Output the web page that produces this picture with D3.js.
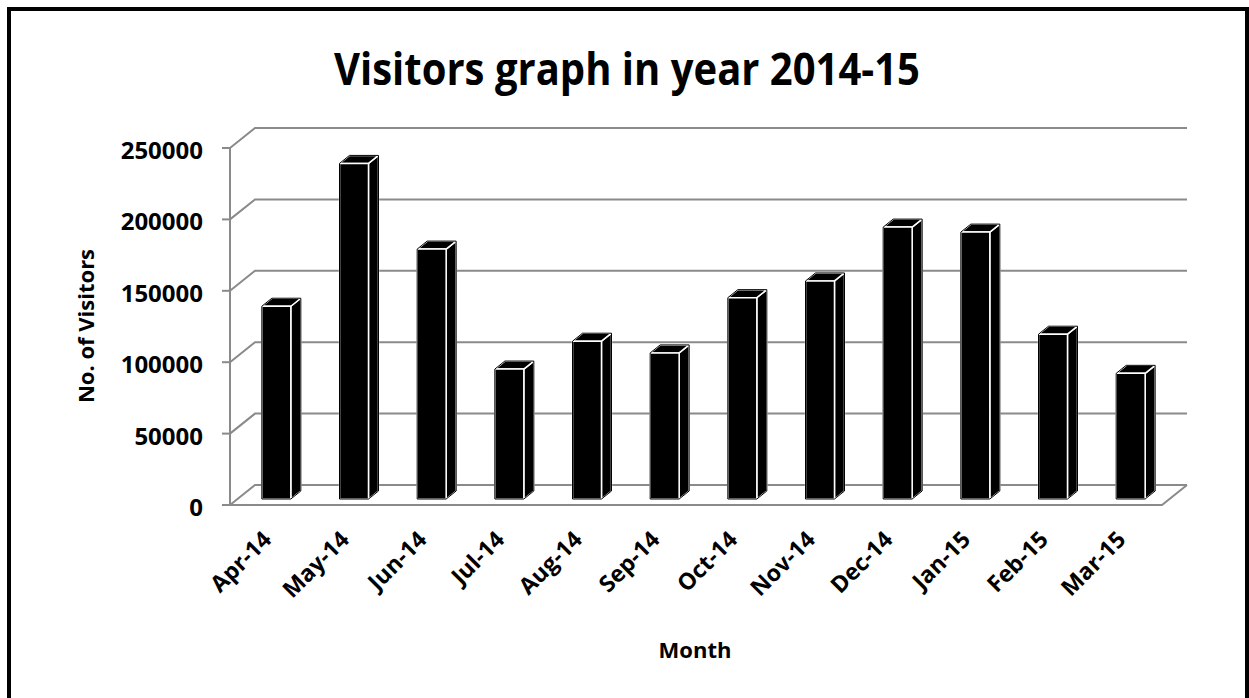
<!DOCTYPE html>
<html>
<head>
<meta charset="utf-8">
<script src="https://cdn.jsdelivr.net/npm/d3@7"></script>
<style>
  body { margin: 0; background: #fff; }
  text { font-family: "Open Sans", sans-serif; font-weight: bold; fill: #000; }
</style>
</head>
<body>
<div id="chart"></div>
<script>
const months = ["Apr-14", "May-14", "Jun-14", "Jul-14", "Aug-14", "Sep-14",
                "Oct-14", "Nov-14", "Dec-14", "Jan-15", "Feb-15", "Mar-15"];
const visitors = [135000, 235000, 175000, 91000, 110500, 102300,
                  141000, 152700, 190400, 186900, 115400, 88000];
const yTicks = [0, 50000, 100000, 150000, 200000, 250000];

function Config() {
    this.width = 1249;
    this.height = 698;
    this.left = 230;
    this.right = 1162;
    this.base = 505;
    this.top = 148;
    // oblique depth of the 3d box
    this.dx = 25;
    this.dy = -20;
    this.x = d3.scaleBand().domain(months).range([this.left, this.right]);
    this.y = d3.scaleLinear().domain([0, 250000]).range([this.base, this.top]);
}

function drawChart(cfg) {
    const svg = d3.select("#chart").append("svg")
        .attr("width", cfg.width)
        .attr("height", cfg.height);

    // frame
    svg.append("rect")
        .attr("x", 9).attr("y", 9)
        .attr("width", 1238).attr("height", 700)
        .attr("fill", "none")
        .attr("stroke", "#000")
        .attr("stroke-width", 4);

    svg.append("text")
        .attr("x", 627)
        .attr("y", 85)
        .attr("text-anchor", "middle")
        .attr("font-size", 45)
        .attr("textLength", 586)
        .attr("lengthAdjust", "spacingAndGlyphs")
        .text("Visitors graph in year 2014-15");

    const grid = "#8a8a8a";

    // wall gridlines (left wall diagonal + back wall)
    svg.append("g").selectAll("path")
        .data(yTicks)
        .join("path")
        .attr("fill", "none")
        .attr("stroke", grid)
        .attr("stroke-width", 2)
        .attr("d", v => {
            const yy = cfg.y(v);
            return `M${cfg.left},${yy}L${cfg.left + cfg.dx},${yy + cfg.dy}L${cfg.right + cfg.dx},${yy + cfg.dy}`;
        });

    // floor front edge
    svg.append("path")
        .attr("fill", "none")
        .attr("stroke", grid)
        .attr("stroke-width", 2)
        .attr("d", `M${cfg.left},${cfg.base}L${cfg.right},${cfg.base}L${cfg.right + cfg.dx},${cfg.base + cfg.dy}`);

    // front axis and ticks
    svg.append("line")
        .attr("x1", cfg.left).attr("x2", cfg.left)
        .attr("y1", cfg.top).attr("y2", cfg.base)
        .attr("stroke", grid).attr("stroke-width", 2);

    svg.append("g").selectAll("line")
        .data(yTicks)
        .join("line")
        .attr("x1", cfg.left - 8).attr("x2", cfg.left)
        .attr("y1", v => cfg.y(v)).attr("y2", v => cfg.y(v))
        .attr("stroke", grid).attr("stroke-width", 2);

    svg.append("g").selectAll("text")
        .data(yTicks)
        .join("text")
        .attr("x", 203)
        .attr("y", v => cfg.y(v) + 11)
        .attr("text-anchor", "end")
        .attr("font-size", 24)
        .text(v => v);

    // bars, front face at 0.3 of the depth, back at 0.7
    const bw = cfg.x.bandwidth();
    const w = bw * 0.373;
    const fx = 0.3 * cfg.dx, fy = 0.3 * cfg.dy;
    const ddx = 0.4 * cfg.dx, ddy = 0.4 * cfg.dy;

    const bars = svg.append("g").selectAll("g")
        .data(months.map((m, i) => ({m, v: visitors[i]})))
        .join("g")
        .attr("fill", "#000")
        .attr("stroke", "#fff")
        .attr("stroke-width", 1.5)
        .attr("stroke-linejoin", "round");

    const bx = d => cfg.x(d.m) + (bw - w) / 2 + fx;
    const yb = cfg.y(0) + fy;
    const yt = d => cfg.y(d.v) + fy;

    bars.append("path")
        .attr("d", d => `M${bx(d) + w},${yt(d)}l${ddx},${ddy}L${bx(d) + w + ddx},${yb + ddy}L${bx(d) + w},${yb}Z`);
    bars.append("path")
        .attr("d", d => `M${bx(d)},${yt(d)}l${ddx},${ddy}h${w}l${-ddx},${-ddy}Z`);
    bars.append("rect")
        .attr("x", bx)
        .attr("y", yt)
        .attr("width", w)
        .attr("height", d => yb - yt(d));
    // dark outline
    bars.append("path")
        .attr("fill", "none")
        .attr("stroke", "#000")
        .attr("stroke-width", 1)
        .attr("d", d => `M${bx(d)},${yb}V${yt(d)}l${ddx},${ddy}h${w}V${yb + ddy}l${-ddx},${-ddy}Z`);

    // month labels
    svg.append("g").selectAll("text")
        .data(months)
        .join("text")
        .attr("text-anchor", "end")
        .attr("font-size", 23)
        .attr("transform", m => `translate(${cfg.x(m) + bw / 2 + 4},${541}) rotate(-45)`)
        .text(m => m);

    svg.append("text")
        .attr("x", 695)
        .attr("y", 658)
        .attr("text-anchor", "middle")
        .attr("font-size", 22)
        .text("Month");

    svg.append("text")
        .attr("transform", "translate(94,326) rotate(-90)")
        .attr("text-anchor", "middle")
        .attr("font-size", 22)
        .text("No. of Visitors");
}

document.addEventListener("DOMContentLoaded", () => drawChart(new Config()));
</script>
</body>
</html>
